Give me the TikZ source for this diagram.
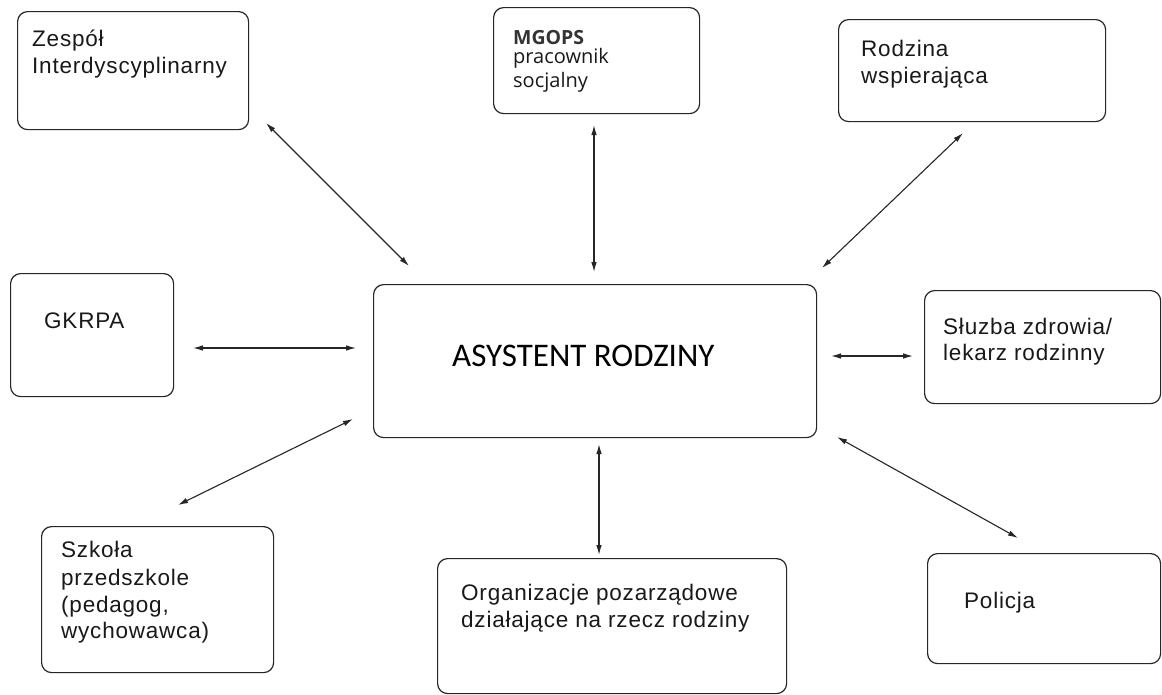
\documentclass[tikz,border=0pt]{standalone}
\usepackage{fontspec}
\newfontfamily\arialf[LetterSpace=3.5]{Liberation Sans}
\newfontfamily\calf{Carlito}
\newfontfamily\opensf{Open Sans}
\usetikzlibrary{arrows.meta}
\begin{document}
\begin{tikzpicture}[x=1pt,y=-1pt,
  box/.style={draw=black!85, line width=1.2pt, rounded corners=10pt, anchor=north west, inner sep=0pt},
  lbl/.style={anchor=base west, inner sep=0pt, text=black!90, font=\arialf\fontsize{22.5}{26}\selectfont},
  olbl/.style={anchor=base west, inner sep=0pt, text=black!90, font=\opensf\fontsize{20}{22}\selectfont},
  conn/.style={line width=1.1pt, draw=black!85, {Latex[length=10pt,width=5.5pt]}-{Latex[length=10pt,width=5.5pt]}}]
\useasboundingbox (0,0) rectangle (1162,694);
\fill[white] (0,0) rectangle (1162,694);

% boxes
\node[box, minimum width=231pt, minimum height=118pt] (zesp) at (17,11) {};
\node[box, minimum width=206pt, minimum height=106pt] (mgops) at (493,7) {};
\node[box, minimum width=267pt, minimum height=102pt] (rodz) at (838,19) {};
\node[box, minimum width=163pt, minimum height=123pt] (gkrpa) at (10,273) {};
\node[box, minimum width=443pt, minimum height=153pt] (asyst) at (373,284) {};
\node[box, minimum width=236pt, minimum height=113pt] (sluzba) at (924,290) {};
\node[box, minimum width=232pt, minimum height=146pt] (szkola) at (41,526) {};
\node[box, minimum width=349pt, minimum height=135pt] (org) at (437,558) {};
\node[box, minimum width=233pt, minimum height=110pt] (policja) at (927,553) {};

% texts
\node[lbl] (t1a) at (32,46) {Zespół};
\node[lbl] (t1b) at (32,73) {Interdyscyplinarny};
\node[olbl, text=black!80, font=\opensf\bfseries\fontsize{19.5}{22}\selectfont] (t2a) at (513,44) {MGOPS};
\node[olbl] (t2b) at (513,63) {pracownik};
\node[olbl] (t2c) at (513,87) {socjalny};
\node[lbl] (t3a) at (861,56) {Rodzina};
\node[lbl] (t3b) at (861,83) {wspierająca};
\node[lbl] (t4) at (44,328) {GKRPA};
\node[anchor=base west, inner sep=0pt, text=black, font=\calf\fontsize{33}{40}\selectfont] (t5) at (452,366) {ASYSTENT RODZINY};
\node[lbl] (t6a) at (943,334) {Słuzba zdrowia/};
\node[lbl] (t6b) at (943,360) {lekarz rodzinny};
\node[lbl] (t7a) at (61,557) {Szkoła};
\node[lbl] (t7b) at (61,585) {przedszkole};
\node[lbl] (t7c) at (61,612) {(pedagog,};
\node[lbl] (t7d) at (61,638) {wychowawca)};
\node[lbl] (t8a) at (461,600) {Organizacje pozarządowe};
\node[lbl] (t8b) at (461,627) {działające na rzecz rodziny};
\node[lbl] (t9) at (964,608) {Policja};

% connector end points
\coordinate (c1a) at (266,123); \coordinate (c1b) at (409,266);
\coordinate (c2a) at (594,125); \coordinate (c2b) at (594,272);
\coordinate (c3a) at (963,133); \coordinate (c3b) at (822,268);
\coordinate (c4a) at (193,348); \coordinate (c4b) at (356,348);
\coordinate (c5a) at (831,356); \coordinate (c5b) at (913,356);
\coordinate (c6a) at (178,505); \coordinate (c6b) at (353,419);
\coordinate (c7a) at (599,444); \coordinate (c7b) at (599,555);
\coordinate (c8a) at (837,437); \coordinate (c8b) at (1018,538);

\draw[conn] (c1a) -- (c1b);
\draw[conn] (c2a) -- (c2b);
\draw[conn] (c3a) -- (c3b);
\draw[conn] (c4a) -- (c4b);
\draw[conn] (c5a) -- (c5b);
\draw[conn] (c6a) -- (c6b);
\draw[conn] (c7a) -- (c7b);
\draw[conn] (c8a) -- (c8b);
\end{tikzpicture}
\end{document}
